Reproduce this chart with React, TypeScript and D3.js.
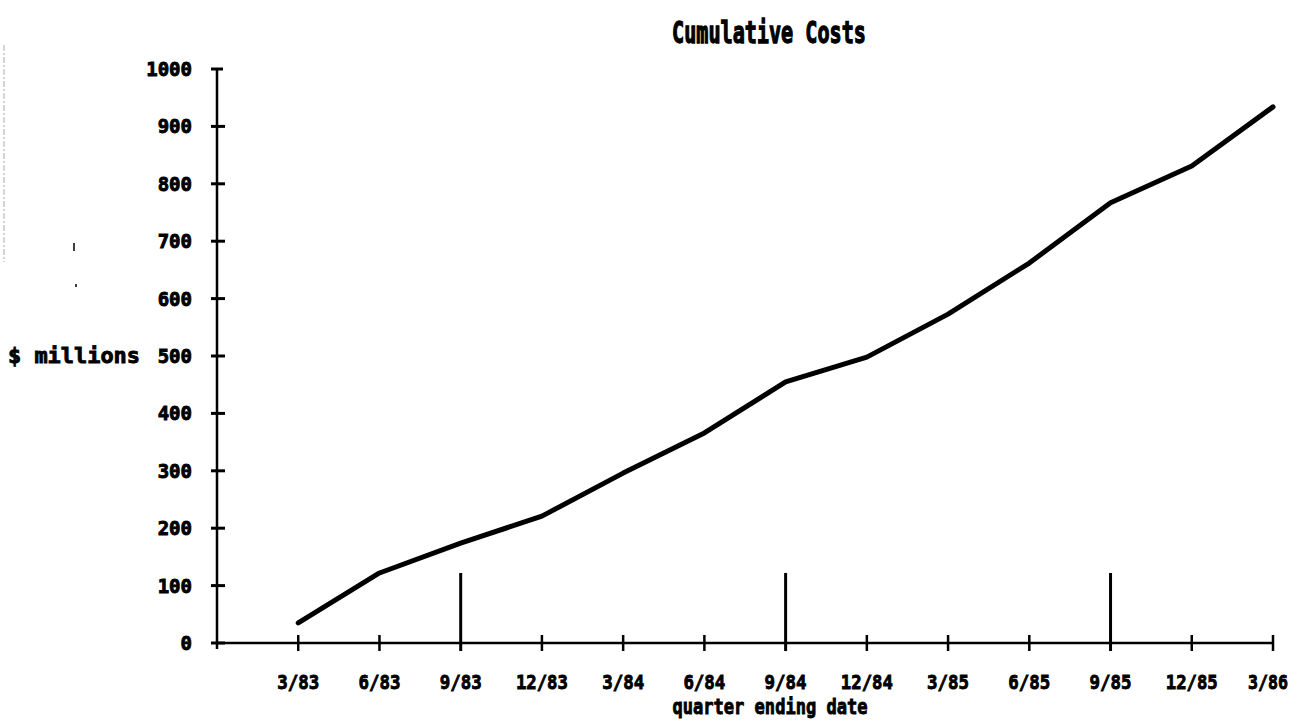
import React from 'react';
import * as d3 from 'd3';

const quarters = ['3/83', '6/83', '9/83', '12/83', '3/84', '6/84', '9/84', '12/84', '3/85', '6/85', '9/85', '12/85', '3/86'];
const cumulativeCosts = [35, 122, 174, 221, 296, 366, 455, 498, 573, 662, 767, 831, 934];
const yTicks = [0, 100, 200, 300, 400, 500, 600, 700, 800, 900, 1000];
const longTickQuarters = ['9/83', '9/84', '9/85'];

const FONT = '"DejaVu Sans Mono", "Liberation Mono", monospace';

export default function App() {
  const W = 1295;
  const H = 724;
  const x = d3.scaleLinear().domain([-1, quarters.length - 1]).range([217, 1273]);
  const y = d3.scaleLinear().domain([0, 1000]).range([643, 69]);
  const line = d3
    .line<number>()
    .x((_, i) => x(i))
    .y((d) => y(d));

  const heavy = { stroke: '#000', strokeWidth: 0.9, paintOrder: 'stroke' as const };

  return (
    <svg width={W} height={H} style={{ position: 'absolute', left: 0, top: 0, background: '#fff' }}>
      <rect x={0} y={0} width={W} height={H} fill="#fff" />
      {/* scan artifacts */}
      <line x1={4} x2={4} y1={45} y2={262} stroke="#aaa" strokeWidth={1} strokeDasharray="6 2 2 2" />
      <line x1={74} x2={74} y1={243} y2={251} stroke="#000" strokeWidth={1.5} />
      <line x1={76} x2={76} y1={284} y2={287} stroke="#000" strokeWidth={1.5} />

      {/* title */}
      <text
        x={769}
        y={43}
        textAnchor="middle"
        fontFamily={FONT}
        fontWeight="bold"
        fontSize={30}
        textLength={194}
        lengthAdjust="spacingAndGlyphs"
        {...heavy}
        strokeWidth={1.3}
      >
        Cumulative Costs
      </text>

      {/* y axis */}
      <line x1={x(-1)} x2={x(-1)} y1={y(1000)} y2={y(0) + 6} stroke="#000" strokeWidth={2.5} />
      {yTicks.map((t) => (
        <g key={t}>
          <line x1={x(-1) - 6} x2={x(-1) + (t === 1000 ? 6 : 8)} y1={y(t)} y2={y(t)} stroke="#000" strokeWidth={3} />
          <text
            x={192}
            y={y(t) + 7}
            textAnchor="end"
            fontFamily={FONT}
            fontWeight="bold"
            fontSize={19}
            {...heavy}
          >
            {t}
          </text>
        </g>
      ))}
      <text
        x={8}
        y={363}
        fontFamily={FONT}
        fontWeight="bold"
        fontSize={22}
        textLength={132}
        lengthAdjust="spacingAndGlyphs"
        {...heavy}
      >
        $ millions
      </text>

      {/* x axis */}
      <line x1={x(-1)} x2={x(quarters.length - 1)} y1={y(0)} y2={y(0)} stroke="#000" strokeWidth={2.5} />
      {quarters.map((q, i) => {
        const last = i === quarters.length - 1;
        return (
          <g key={q}>
            <line
              x1={x(i)}
              x2={x(i)}
              y1={longTickQuarters.includes(q) ? y(0) - 70 : y(0) - 8}
              y2={y(0) + 8}
              stroke="#000"
              strokeWidth={longTickQuarters.includes(q) ? 3 : 2.5}
            />
            <text
              x={last ? x(i) - 5 : x(i)}
              y={689}
              textAnchor="middle"
              fontFamily={FONT}
              fontWeight="bold"
              fontSize={20}
              textLength={q.length === 5 ? 52 : last ? 40 : 42}
              lengthAdjust="spacingAndGlyphs"
              {...heavy}
            >
              {q}
            </text>
          </g>
        );
      })}
      <text
        x={770}
        y={714}
        textAnchor="middle"
        fontFamily={FONT}
        fontWeight="bold"
        fontSize={21}
        textLength={195}
        lengthAdjust="spacingAndGlyphs"
        {...heavy}
      >
        quarter ending date
      </text>

      {/* data line */}
      <path
        d={line(cumulativeCosts) || ''}
        fill="none"
        stroke="#000"
        strokeWidth={5}
        strokeLinejoin="round"
        strokeLinecap="round"
      />
    </svg>
  );
}
